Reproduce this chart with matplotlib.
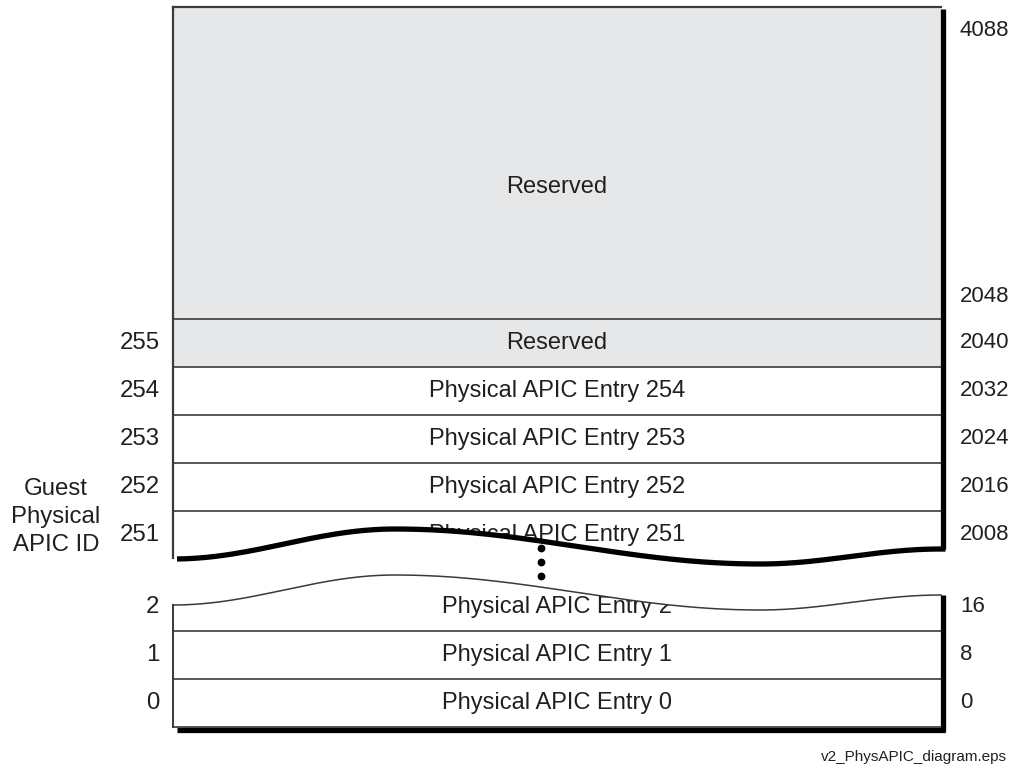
import numpy as np
import matplotlib
matplotlib.use("Agg")
import matplotlib.pyplot as plt
from matplotlib.patches import Polygon, Rectangle
from matplotlib import font_manager

plt.rcParams['font.family'] = ['Liberation Sans', 'DejaVu Sans']

# ---------------- data ----------------
reserved_top_label = "Reserved"
reserved_top_offsets = [4088, 2048]
upper_ids = [255, 254, 253, 252, 251]
upper_labels = ["Reserved", "Physical APIC Entry 254", "Physical APIC Entry 253",
                "Physical APIC Entry 252", "Physical APIC Entry 251"]
upper_offsets = [2040, 2032, 2024, 2016, 2008]
upper_gray = [True, False, False, False, False]
lower_ids = [2, 1, 0]
lower_labels = ["Physical APIC Entry 2", "Physical APIC Entry 1", "Physical APIC Entry 0"]
lower_offsets = [16, 8, 0]
axis_title = "Guest\nPhysical\nAPIC ID"
footer = "v2_PhysAPIC_diagram.eps"

# ---------------- layout ----------------
X0, X1 = 173, 941
Y_TOP, Y_RES = 7, 319
ROW_H = 48
Y_BOT = 727
FS = 17.0
FS_L = 17.3
FS_R = 16.0
TXT = '#231f20'
GRAY = '#e6e7e8'
LINE = '#3a3a3a'

fig = plt.figure(figsize=(10.12, 7.71), dpi=100)
ax = fig.add_axes([0, 0, 1, 1])
ax.set_xlim(0, 1012)
ax.set_ylim(771, 0)
ax.axis('off')


def half_cos(x, xa, xb, ya, yb):
    t = np.clip((x - xa) / (xb - xa), 0, 1)
    return ya + (yb - ya) * (1 - np.cos(np.pi * t)) / 2


def wave(x, dy=0.0):
    x = np.asarray(x, dtype=float)
    y = np.where(x < 395, half_cos(x, 173, 395, 558, 528),
                 np.where(x < 760, half_cos(x, 395, 760, 528, 563),
                          half_cos(x, 760, 941, 563, 548)))
    return y + dy


DY = 47

# ---------- upper part ----------
xs = np.linspace(X0, X1 + 4.5, 400)
ys_thick = wave(xs)
ys_thin = wave(xs, DY)

ax.add_patch(Rectangle((X0, Y_TOP), X1 - X0, 560 - Y_TOP, facecolor='white', edgecolor='none', zorder=1))
ax.add_patch(Rectangle((X0, Y_TOP), X1 - X0, Y_RES - Y_TOP, facecolor=GRAY, edgecolor='none', zorder=1.5))
ax.text((X0 + X1) / 2, 187, reserved_top_label, ha='center', va='center', fontsize=FS, color=TXT, zorder=5)
ax.text(960, Y_TOP + 23, str(reserved_top_offsets[0]), ha='left', va='center', fontsize=FS_R, color=TXT)
ax.text(960, Y_RES - 23, str(reserved_top_offsets[1]), ha='left', va='center', fontsize=FS_R, color=TXT)

for k, (gid, lab, off, g) in enumerate(zip(upper_ids, upper_labels, upper_offsets, upper_gray)):
    y0 = Y_RES + k * ROW_H
    yc = y0 + ROW_H / 2
    if g:
        ax.add_patch(Rectangle((X0, y0), X1 - X0, ROW_H, facecolor=GRAY, edgecolor='none', zorder=1.5))
    ax.plot([X0, X1], [y0, y0], color=LINE, lw=1.2, zorder=3)
    ax.text((X0 + X1) / 2, yc, lab, ha='center', va='center', fontsize=FS, color=TXT, zorder=5)
    ax.text(159.5, yc, str(gid), ha='right', va='center', fontsize=FS_L, color=TXT)
    ax.text(960, yc, str(off), ha='left', va='center', fontsize=FS_R, color=TXT)

# ---------- lower part ----------
ax.add_patch(Rectangle((X0, 570), X1 - X0, Y_BOT - 570, facecolor='white', edgecolor='none', zorder=1))
for i, (gid, lab, off) in enumerate(zip(lower_ids, lower_labels, lower_offsets)):
    y1 = Y_BOT - (len(lower_ids) - 1 - i) * ROW_H
    y0 = y1 - ROW_H
    yc = (y0 + y1) / 2
    if i > 0:
        ax.plot([X0, X1], [y0, y0], color=LINE, lw=1.2, zorder=3)
    ax.text((X0 + X1) / 2, yc, lab, ha='center', va='center', fontsize=FS, color=TXT, zorder=5)
    ax.text(159.5, yc, str(gid), ha='right', va='center', fontsize=FS_L, color=TXT)
    ax.text(960, yc, str(off), ha='left', va='center', fontsize=FS_R, color=TXT)

# white gap (break) between the two waves, masking text
gap = np.vstack([np.column_stack([xs, ys_thick]), np.column_stack([xs[::-1], ys_thin[::-1]])])
ax.add_patch(Polygon(gap, closed=True, facecolor='white', edgecolor='none', zorder=5.5))
ax.add_patch(Rectangle((X0 - 3, 540), 3, 80, facecolor='white', edgecolor='none', zorder=5.5))

# outline upper
ax.plot([X0, X1], [Y_TOP, Y_TOP], color=LINE, lw=1.6, zorder=6)
ax.plot([X0, X0], [Y_TOP, wave(X0)], color=LINE, lw=1.6, zorder=6)
ax.plot([X1 + 2.5, X1 + 2.5], [Y_TOP + 2, wave(941.0) + 1], color='black', lw=3.8,
        solid_capstyle='butt', zorder=6)
xw = np.linspace(177, X1 + 4.5, 400)
ax.plot(xw, wave(xw) + 1, color='black', lw=3.8, solid_capstyle='butt', zorder=7)

# outline lower
xt = np.linspace(X0, X1, 400)
ax.plot(xt, wave(xt, DY), color=LINE, lw=1.1, zorder=6)
ax.plot([X0, X1], [Y_BOT, Y_BOT], color=LINE, lw=1.2, zorder=6)
ax.plot([X0, X0], [wave(X0, DY), Y_BOT], color=LINE, lw=1.4, zorder=6)
ax.plot([X1 + 2.5, X1 + 2.5], [wave(X1, DY), Y_BOT + 4.5], color='black', lw=3.8,
        solid_capstyle='butt', zorder=6)
ax.plot([177, X1 + 4.4], [Y_BOT + 2.6, Y_BOT + 2.6], color='black', lw=3.8,
        solid_capstyle='butt', zorder=6)

# continuation dots
ax.plot([541, 541, 541], [548, 562, 576], 'o', ms=4.6, color='black', zorder=8)

# side title & footer
ax.text(56, 517, axis_title, ha='center', va='center', fontsize=FS_L, color=TXT,
        multialignment='center', linespacing=1.36)

names = {f.name for f in font_manager.fontManager.ttflist}
if 'Liberation Sans Narrow' in names:
    ax.text(1007, 757, footer, ha='right', va='center', fontsize=13.2, color=TXT,
            family='Liberation Sans Narrow')
else:
    ax.text(1007, 757, footer, ha='right', va='center', fontsize=11, color=TXT)

fig.savefig('out.png', dpi=100)
